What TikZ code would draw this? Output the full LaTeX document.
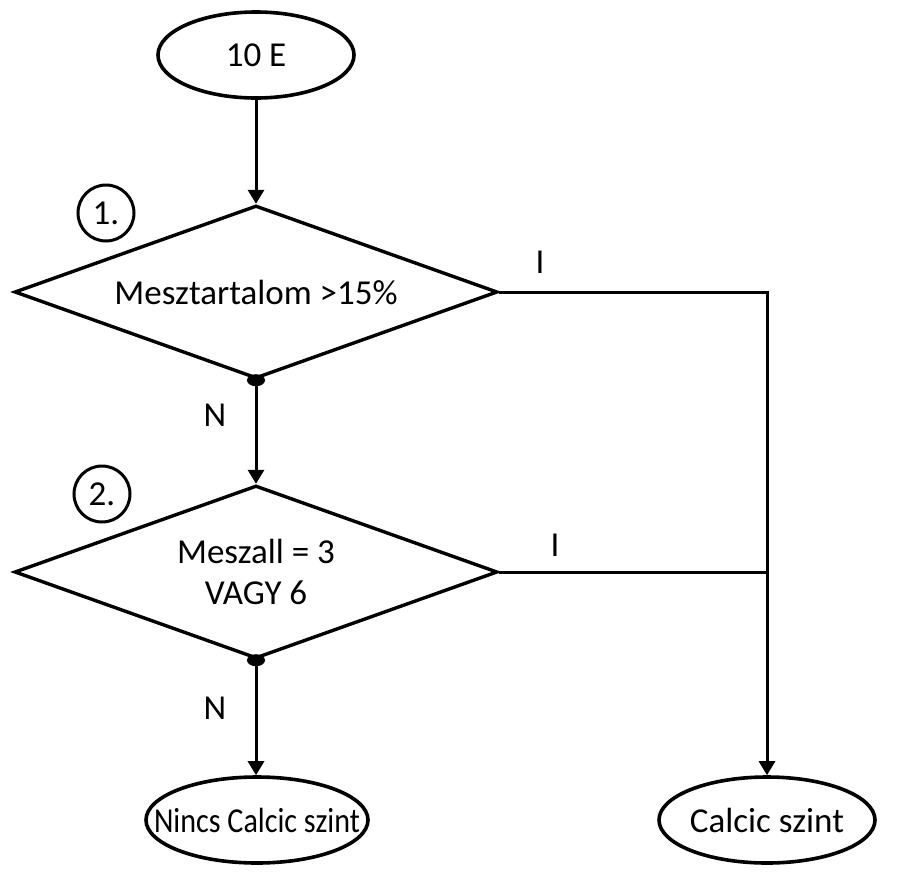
\documentclass[tikz,border=0pt]{standalone}
\usepackage{fontspec}
\setmainfont{Carlito}
\usetikzlibrary{shapes.geometric,arrows.meta}
\begin{document}
\begin{tikzpicture}[x=1pt,y=-1pt,
  every node/.style={font=\fontsize{35}{41}\selectfont},
  term/.style={ellipse,draw,line width=3.6pt,minimum width=196pt,minimum height=86pt,inner xsep=-60pt,inner ysep=0pt},
  dec/.style={diamond,draw,line width=3.4pt,minimum width=483pt,minimum height=173pt,inner sep=0pt,aspect=2.8,align=center},
  num/.style={circle,draw,line width=3pt,minimum size=56pt,inner sep=0pt},
  conn/.style={line width=3pt,-{Triangle[length=14pt,width=16pt]}},
  plain/.style={line width=3pt},
  lab/.style={inner sep=0pt},
  dot/.style={ellipse,fill,minimum width=18pt,minimum height=12pt,inner sep=0pt}]
\useasboundingbox (0,0) rectangle (916,873);
\node[term] (start) at (256,55) {10 E};
\node[dec] (d1) at (256,292) {Mesztartalom >15\%};
\node[dec] (d2) at (256,572) {Meszall = 3\\VAGY 6};
\node[term,minimum width=222pt] (no) at (257,820) {\addfontfeature{FakeStretch=0.86}Nincs Calcic szint};
\node[term,minimum width=216pt] (yes) at (767,820) {Calcic szint};
\node[num] (c1) at (106,213) {1.};
\node[num] (c2) at (102,494) {2.};
\node[dot] (p1) at (d1.south) {};
\node[dot] (p2) at (d2.south) {};
\coordinate (k1) at (d1.east -| yes.north);
\coordinate (k2) at (d2.east -| yes.north);
\draw[conn] (start.south) -- (d1.north);
\draw[conn] (p1) -- (d2.north);
\draw[conn] (p2) -- (p2 |- no.north);
\draw[conn] (d1.east) -- (k1) -- (yes.north);
\draw[plain] (d2.east) -- (k2);
\node[lab] (n1) at (215,415) {N};
\node[lab] (n2) at (215,708) {N};
\node[lab] (i1) at (540,262) {I};
\node[lab] (i2) at (555,545) {I};
\end{tikzpicture}
\end{document}
